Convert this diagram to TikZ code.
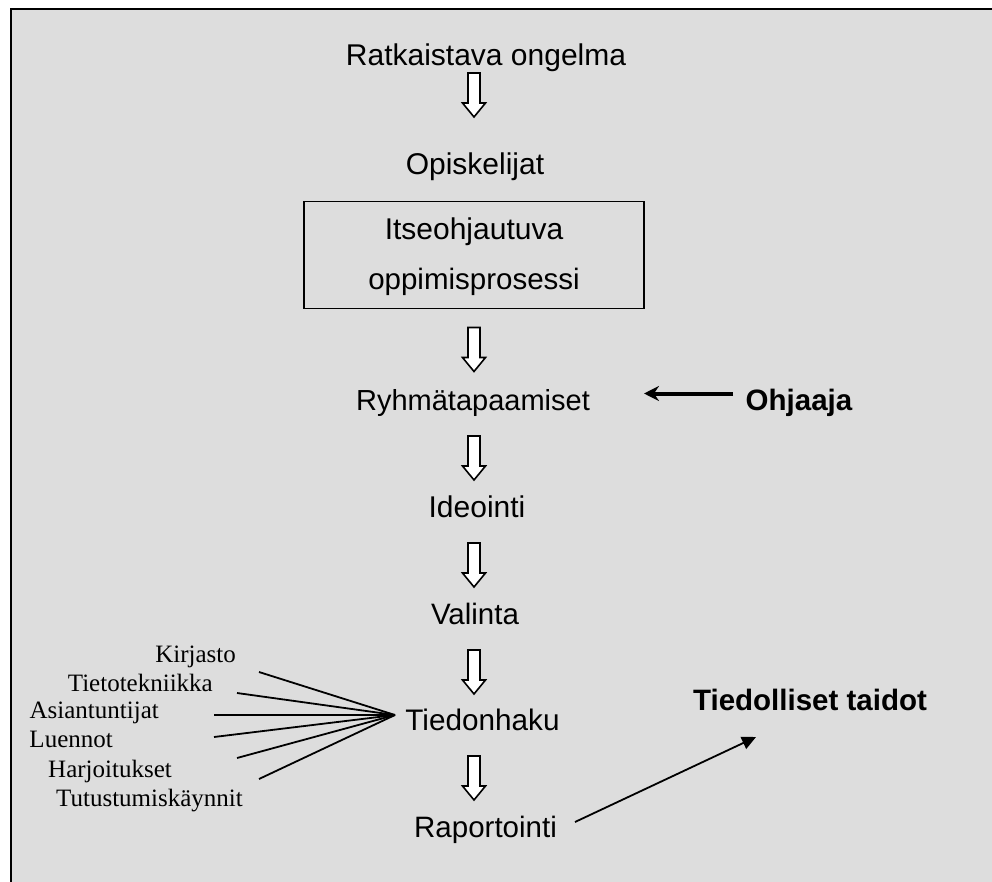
\documentclass[tikz,border=0pt]{standalone}
\usepackage{fontspec}
\setmainfont{Liberation Sans}
\newfontfamily\labelserif{Liberation Serif}
\usetikzlibrary{arrows.meta}
\definecolor{panel}{HTML}{DDDDDD}

\begin{document}
\begin{tikzpicture}[x=1pt,y=-1pt,
  stage/.style={inner sep=0pt, anchor=base, font=\fontsize{#1}{#1}\selectfont},
  keyword/.style={inner sep=0pt, anchor=base, font=\fontsize{#1}{#1}\selectfont\bfseries},
  source/.style={inner sep=0pt, anchor=base east, font=\labelserif\fontsize{25}{25}\selectfont},
  procbox/.style={draw, line width=1.2pt, minimum width=340pt, minimum height=107pt, inner sep=0pt},
  feed/.style={line width=1.8pt},
  guide/.style={line width=4pt, -{Stealth[length=15pt,width=15pt,inset=5pt]}},
  outcome/.style={line width=1.8pt, -{Triangle[length=14pt,width=13pt]}},
  blockdown/.pic={\draw[line width=1.6pt, fill=white, line join=miter]
      (-6,0) -- (-6,30) -- (-11.5,30) -- (0,44) -- (11.5,30) -- (6,30) -- (6,0) -- cycle;}
]
\useasboundingbox (0,0) rectangle (992,882);
% panel with its top and left rule
\fill[panel] (11,9) rectangle (992,882);
\draw[line width=2pt] (11,882) -- (11,9) -- (992,9);

% main sequence
\node[stage=30] (prob) at (486,66) {Ratkaistava ongelma};
\pic at (474,73) {blockdown};
\node[stage=30] (stud) at (475,175) {Opiskelijat};
\node[procbox] (proc) at (474,254.8) {};
\node[stage=30] (proca) at (474,240) {Itseohjautuva};
\node[stage=29.5] (procb) at (474,290) {oppimisprosessi};
\pic at (474,327.5) {blockdown};
\node[stage=29] (meet) at (473,410) {Ryhmätapaamiset};
\pic at (474,436) {blockdown};
\node[stage=30] (idea) at (477,517) {Ideointi};
\pic at (474,543) {blockdown};
\node[stage=29.5] (pick) at (475,624) {Valinta};
\pic at (474,650) {blockdown};
\node[stage=29.7] (search) at (482.5,730) {Tiedonhaku};
\pic at (474,756) {blockdown};
\node[stage=29.5] (report) at (485.5,837) {Raportointi};

% supervisor
\node[keyword=29.5] (tutor) at (799,410) {Ohjaaja};
\coordinate (tutortail) at (733,393.5);
\coordinate (tutortip) at (644,393.5);
\draw[guide] (tutortail) -- (tutortip);

% outcome
\node[keyword=29.5] (skills) at (810,710) {Tiedolliset taidot};
\coordinate (reporttail) at (575,822);
\coordinate (skillstip) at (756,737);
\draw[outcome] (reporttail) -- (skillstip);

% information sources
\node[source] (lib) at (236,662) {Kirjasto};
\node[source] (it) at (213,691) {Tietotekniikka};
\node[source] (exp) at (159,718) {Asiantuntijat};
\node[source] (lect) at (113,747) {Luennot};
\node[source] (exer) at (172,777) {Harjoitukset};
\node[source] (visit) at (243,806) {Tutustumiskäynnit};
\coordinate (hub) at (395,715);
\coordinate (s1) at (259,672);
\coordinate (s2) at (237,693);
\coordinate (s3) at (214,715);
\coordinate (s4) at (214,737);
\coordinate (s5) at (237,758);
\coordinate (s6) at (259,779);
\foreach \s in {s1,s2,s3,s4,s5,s6}
  \draw[feed] (\s) -- (hub);
\end{tikzpicture}
\end{document}
